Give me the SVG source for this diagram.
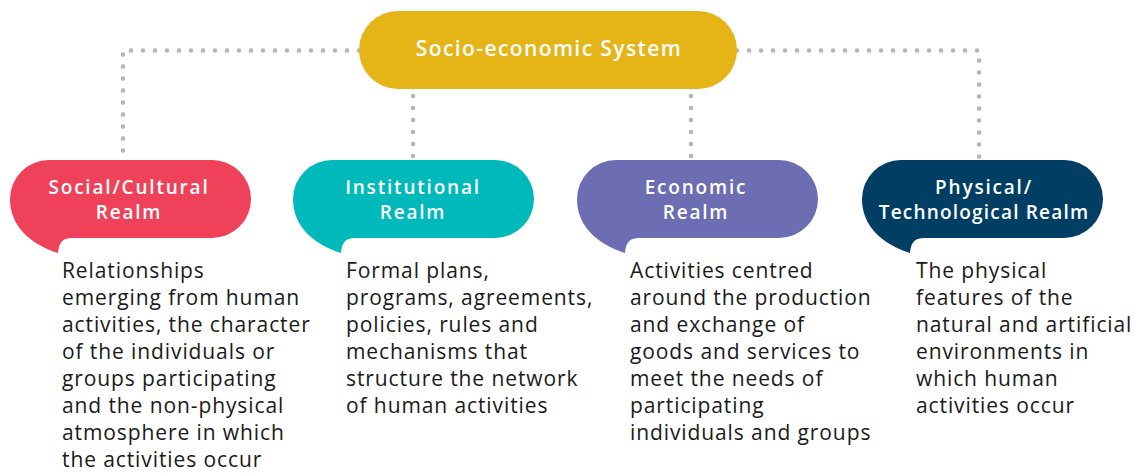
<svg xmlns="http://www.w3.org/2000/svg" width="1135" height="473" viewBox="0 0 1135 473">
<style>
.dot{fill:none;stroke:#B4B5B7;stroke-width:4.5;stroke-linecap:round;stroke-dasharray:0 12}
.lbl{font-family:"Open Sans","Noto Sans",sans-serif;font-size:19px;font-weight:600;fill:#fff;text-anchor:middle;letter-spacing:1.8px}
.body{font-family:"Open Sans","Noto Sans",sans-serif;font-size:21px;fill:#1a1a1a;letter-spacing:0.9px}
</style>
<defs>
<path id="bub" d="M39,0 H202 A39,39 0 0 1 202,78 H62 C54,78 49,81 48,93 C20,84 0,66 0,39 A39,39 0 0 1 39,0 Z"/>
</defs>
<g id="connectors">
<path class="dot" d="M359,50.5 H123 V158"/>
<path class="dot" d="M737,50.5 H979 V158"/>
<path class="dot" d="M413,96 V158"/>
<path class="dot" d="M691,96 V158"/>
</g>
<g id="system">
<rect x="359" y="11" width="378" height="78" rx="39" fill="#E5B417"/>
<text class="lbl" x="549" y="56" style="font-size:21px;letter-spacing:1.4px">Socio-economic System</text>
</g>
<g id="social">
<use href="#bub" x="10" y="160" fill="#EF4159"/>
<text class="lbl" x="129" y="194">Social/Cultural</text>
<text class="lbl" x="129" y="219">Realm</text>
<text class="body" x="62" y="278">
<tspan x="62" dy="0">Relationships</tspan>
<tspan x="62" dy="27">emerging from human</tspan>
<tspan x="62" dy="27">activities, the character</tspan>
<tspan x="62" dy="27">of the individuals or</tspan>
<tspan x="62" dy="27">groups participating</tspan>
<tspan x="62" dy="27">and the non-physical</tspan>
<tspan x="62" dy="27">atmosphere in which</tspan>
<tspan x="62" dy="27">the activities occur</tspan>
</text>
</g>
<g id="institutional">
<use href="#bub" x="293" y="160" fill="#00B9BA"/>
<text class="lbl" x="413" y="194">Institutional</text>
<text class="lbl" x="413" y="219">Realm</text>
<text class="body" x="346" y="278">
<tspan x="346" dy="0">Formal plans,</tspan>
<tspan x="346" dy="27">programs, agreements,</tspan>
<tspan x="346" dy="27">policies, rules and</tspan>
<tspan x="346" dy="27">mechanisms that</tspan>
<tspan x="346" dy="27">structure the network</tspan>
<tspan x="346" dy="27">of human activities</tspan>
</text>
</g>
<g id="economic">
<use href="#bub" x="577" y="160" fill="#6C6DB3"/>
<text class="lbl" x="696" y="194">Economic</text>
<text class="lbl" x="696" y="219">Realm</text>
<text class="body" x="630" y="278">
<tspan x="630" dy="0">Activities centred</tspan>
<tspan x="630" dy="27">around the production</tspan>
<tspan x="630" dy="27">and exchange of</tspan>
<tspan x="630" dy="27">goods and services to</tspan>
<tspan x="630" dy="27">meet the needs of</tspan>
<tspan x="630" dy="27">participating</tspan>
<tspan x="630" dy="27">individuals and groups</tspan>
</text>
</g>
<g id="physical">
<use href="#bub" x="862" y="160" fill="#003F63"/>
<text class="lbl" x="984" y="194">Physical/</text>
<text class="lbl" x="984" y="219" style="letter-spacing:1.2px">Technological Realm</text>
<text class="body" x="916" y="278">
<tspan x="916" dy="0">The physical</tspan>
<tspan x="916" dy="27">features of the</tspan>
<tspan x="916" dy="27">natural and artificial</tspan>
<tspan x="916" dy="27">environments in</tspan>
<tspan x="916" dy="27">which human</tspan>
<tspan x="916" dy="27">activities occur</tspan>
</text>
</g>
</svg>
